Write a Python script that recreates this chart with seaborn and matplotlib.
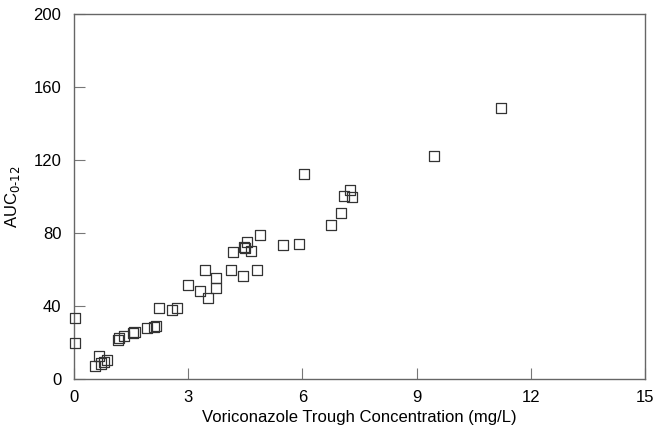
import pandas as pd
import matplotlib.pyplot as plt
import seaborn as sns

# trough concentration (mg/L) vs AUC0-12
trough = [0.02, 0.02, 0.55, 0.67, 0.70, 0.78, 0.88, 1.16, 1.19, 1.32, 1.56, 1.59,
          1.93, 2.11, 2.16, 2.23, 2.57, 2.71, 2.99, 3.30, 3.44, 3.52, 3.72, 3.74,
          4.13, 4.19, 4.44, 4.47, 4.50, 4.54, 4.66, 4.80, 4.89, 5.50, 5.92, 6.05,
          6.75, 7.01, 7.09, 7.24, 7.30, 9.46, 11.23]
auc = [33.2, 19.9, 6.9, 12.4, 8.5, 9.5, 10.6, 21.3, 22.4, 23.7, 25.2, 25.8,
       28.1, 28.5, 29.2, 38.7, 37.6, 38.9, 51.6, 48.0, 59.8, 44.2, 49.9, 55.5,
       59.5, 69.5, 56.6, 72.6, 71.6, 75.3, 70.2, 59.5, 79.1, 73.5, 74.1, 112.3,
       84.5, 90.7, 100.4, 103.6, 100.0, 122.3, 148.4]

df = pd.DataFrame({"trough": trough, "auc": auc})

sns.set_style("white")
plt.rcParams["font.family"] = ["Liberation Sans", "DejaVu Sans"]

fig = plt.figure(figsize=(6.57, 4.26), dpi=100)
ax = fig.add_axes([0.1126, 0.1103, 0.8691, 0.8568])

sns.scatterplot(data=df, x="trough", y="auc", marker="s", s=52,
                facecolor="none", edgecolor="#333333", linewidth=0.9,
                clip_on=False, zorder=3, ax=ax)

ax.set_xlim(0, 15)
ax.set_ylim(0, 200)
ax.set_xticks([0, 3, 6, 9, 12, 15])
ax.set_yticks([0, 40, 80, 120, 160, 200])
ax.tick_params(bottom=True, left=True, direction="in", length=8, width=0.8,
               color="#777777", labelsize=12, labelcolor="black", pad=8)
ax.tick_params(axis="y", pad=9)

for sp in ax.spines.values():
    sp.set_color("#666666")
    sp.set_linewidth(1.0)

ax.set_xlabel("Voriconazole Trough Concentration (mg/L)", fontsize=12,
              color="black")
ax.set_ylabel(r"AUC$_{0\text{-}12}$", fontsize=12, color="black", labelpad=8)
ax.xaxis.set_label_coords(0.5, -0.085)

fig.savefig("out.png", dpi=100)
